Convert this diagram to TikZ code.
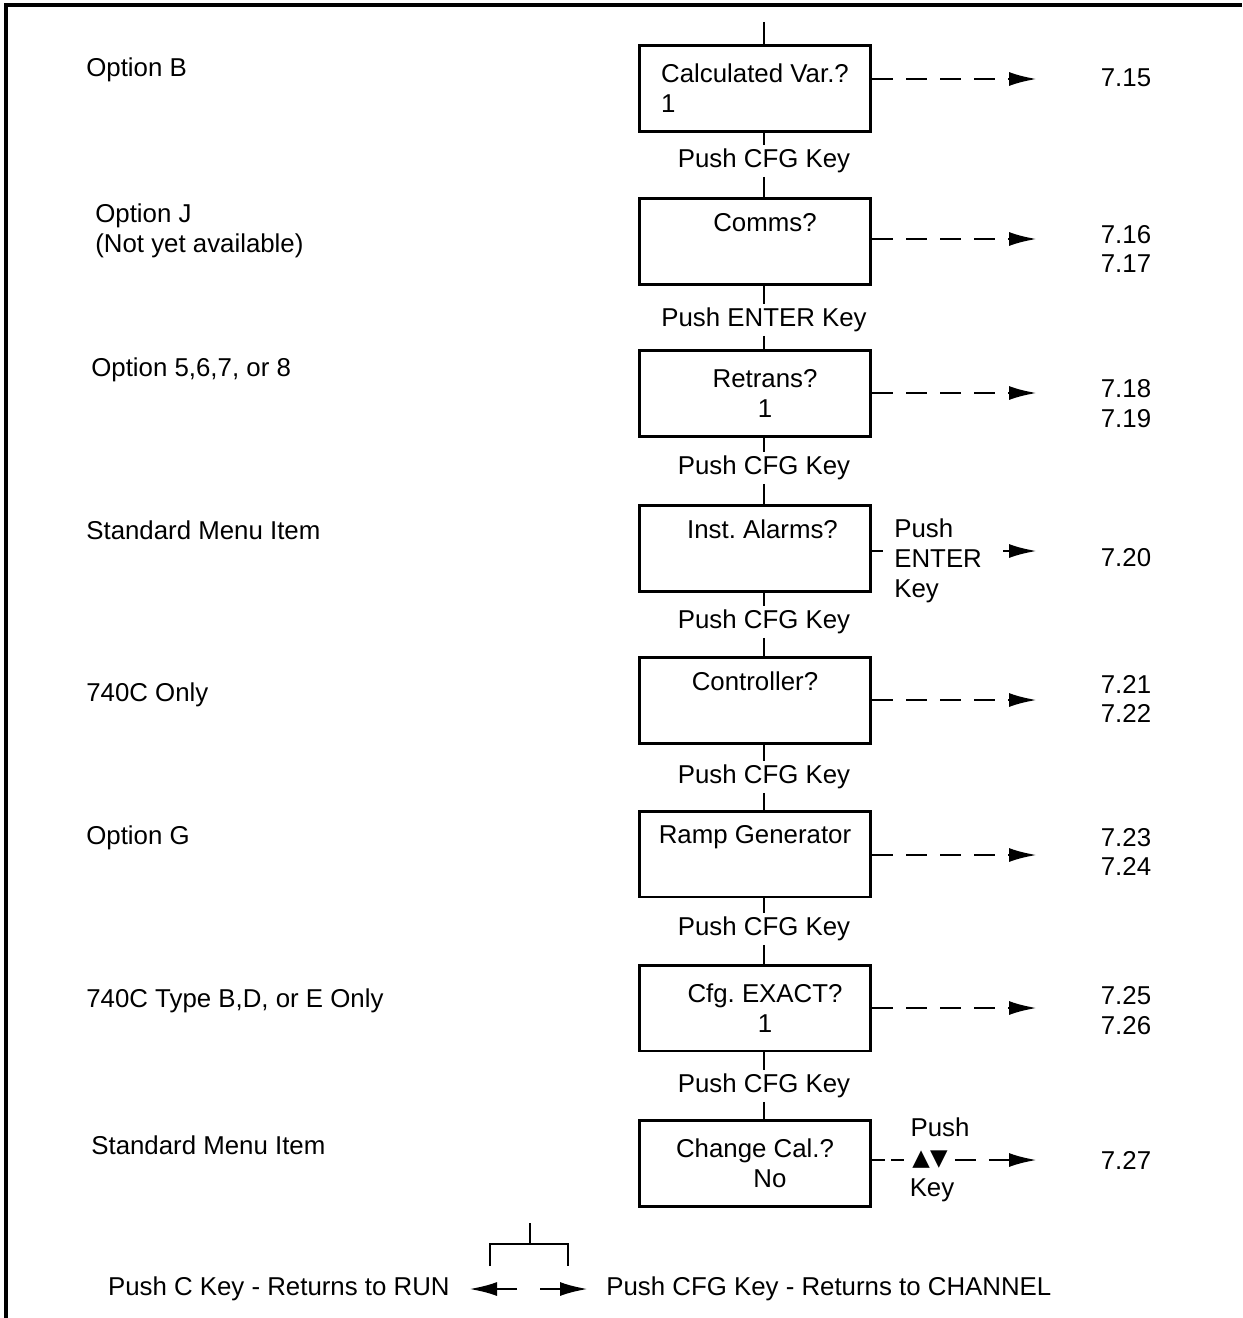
\documentclass[tikz,border=0pt]{standalone}
\usepackage{fontspec}
\setmainfont{Liberation Sans}
\newfontfamily\symfont{DejaVu Sans}
\usetikzlibrary{positioning, arrows.meta, calc}
\frenchspacing
\newcommand{\menufont}{\fontsize{14.7}{17}\selectfont}
\tikzset{
  menubox/.style={draw, line width=1.7pt, minimum width=4.64cm, minimum height=1.72cm, align=center, inner sep=0pt, font=\menufont},
  keylbl/.style={inner sep=2pt, font=\menufont},
  note/.style={anchor=west, align=left, inner sep=0pt, font=\menufont},
  secref/.style={align=center, inner sep=0pt, font=\menufont},
  link/.style={line width=1.5pt},
  arr/.style={line width=1.6pt, -{Latex[length=5.6mm, width=2.8mm]}},
  darr/.style={arr, dash pattern=on 0.42cm off 0.26cm},
  frame/.style={line width=1.9pt}
}

\begin{document}
\begin{tikzpicture}[x=0.02cm, y=-0.02cm]
\useasboundingbox (0,0) rectangle (1242,1318);
\coordinate (frBL) at (6,1318);
\coordinate (frTR) at (1242,5);
\draw[frame] (frBL) |- (frTR);

% menu items
\node[menubox, align=left] (cvar) at (755,88.5) {Calculated Var.?\\1};
\node[menubox] (comms) at (755,241.5) {\hspace*{0.4cm}Comms?\\\strut};
\node[menubox] (retr) at (755,393.5) {\hspace*{0.4cm}Retrans?\\\hspace*{0.4cm}1};
\node[menubox] (alarm) at (755,548.5) {\hspace*{0.3cm}Inst. Alarms?\\\strut};
\node[menubox] (ctrl) at (755,700.5) {Controller?\\\strut};
\node[menubox] (ramp) at (755,854) {Ramp Generator\\\strut};
\node[menubox] (exact) at (755,1008) {\hspace*{0.4cm}Cfg. EXACT?\\\hspace*{0.4cm}1};
\node[menubox] (chcal) at (755,1163.5) {Change Cal.?\\\hspace*{0.6cm}No};

% keys between items
\node[keylbl] (k1) at (764,161) {Push CFG Key};
\node[keylbl] (k2) at (764,320) {Push ENTER Key};
\node[keylbl] (k3) at (764,468) {Push CFG Key};
\node[keylbl] (k4) at (764,622) {Push CFG Key};
\node[keylbl] (k5) at (764,777) {Push CFG Key};
\node[keylbl] (k6) at (764,929) {Push CFG Key};
\node[keylbl] (k7) at (764,1086) {Push CFG Key};

\coordinate (top) at (764,22);
\draw[link] (top) -- (top |- cvar.north);
\draw[link] (cvar.south -| k1) -- (k1);
\draw[link] (k1) -- (k1 |- comms.north);
\draw[link] (comms.south -| k2) -- (k2);
\draw[link] (k2) -- (k2 |- retr.north);
\draw[link] (retr.south -| k3) -- (k3);
\draw[link] (k3) -- (k3 |- alarm.north);
\draw[link] (alarm.south -| k4) -- (k4);
\draw[link] (k4) -- (k4 |- ctrl.north);
\draw[link] (ctrl.south -| k5) -- (k5);
\draw[link] (k5) -- (k5 |- ramp.north);
\draw[link] (ramp.south -| k6) -- (k6);
\draw[link] (k6) -- (k6 |- exact.north);
\draw[link] (exact.south -| k7) -- (k7);
\draw[link] (k7) -- (k7 |- chcal.north);

% left notes
\node[note] (nB) at (86,70) {Option B};
\node[note] (nJ) at (95,231) {Option J\\(Not yet available)};
\node[note] (n58) at (91,370) {Option 5,6,7, or 8};
\node[note] (nstd) at (86,530) {Standard Menu Item};
\node[note] (nC) at (86,695) {740C Only};
\node[note] (nG) at (86,838) {Option G};
\node[note] (nBDE) at (86,1001) {740C Type B,D, or E Only};
\node[note] (nstd2) at (91,1145) {Standard Menu Item};

% section refs
\node[secref] (r1) at (1126,78) {7.15};
\node[secref] (r2) at (1126,249) {7.16\\7.17};
\node[secref] (r3) at (1126,404) {7.18\\7.19};
\node[secref] (r4) at (1126,558) {7.20};
\node[secref] (r5) at (1126,699) {7.21\\7.22};
\node[secref] (r6) at (1126,852) {7.23\\7.24};
\node[secref] (r7) at (1126,1011) {7.25\\7.26};
\node[secref] (r8) at (1126,1160) {7.27};

\coordinate (e1) at (1037,79);
\coordinate (e2) at (1037,239);
\coordinate (e3) at (1037,393);
\coordinate (e4) at (1037,551);
\coordinate (e5) at (1037,700);
\coordinate (e6) at (1037,855);
\coordinate (e7) at (1037,1008);
\coordinate (e8) at (1037,1160);
\draw[darr] (cvar.east |- e1) -- (e1);
\draw[darr] (comms.east |- e2) -- (e2);
\draw[darr] (retr.east |- e3) -- (e3);
\draw[darr] (ctrl.east |- e5) -- (e5);
\draw[darr] (ramp.east |- e6) -- (e6);
\draw[darr] (exact.east |- e7) -- (e7);

% enter key branch
\coordinate (s4) at (883,551);
\coordinate (a4) at (1003,551);
\draw[link] (alarm.east |- s4) -- (s4);
\node[note] (pent) at (894,561) {Push\\ENTER\\Key};
\draw[arr] (a4) -- (e4);

% arrow keys branch
\node[inner xsep=4pt, inner ysep=1pt, font=\symfont\fontsize{13}{14}\selectfont] (updn) at (930,1160) {▲▼};
\node[keylbl] (pup) at (940,1127) {Push};
\node[keylbl] (pkey) at (932,1190) {Key};
\draw[link, dash pattern=on 0.26cm off 0.12cm] (chcal.east |- updn) -- (updn);
\draw[darr] (updn) -- (e8);

% exits
\coordinate (brkT) at (530,1223);
\coordinate (brkM) at (530,1244);
\coordinate (brkL) at (490,1266);
\coordinate (brkR) at (568,1266);
\draw[link] (brkT) -- (brkM);
\draw[link] (brkL) |- (brkM) -| (brkR);
\node[keylbl, anchor=east, inner sep=0pt] (ret) at (450,1289) {Push C Key - Returns to RUN};
\node[keylbl, anchor=west, inner sep=0pt] (chan) at (606,1289) {Push CFG Key - Returns to CHANNEL};
\coordinate (lt) at (517,1289);
\coordinate (lh) at (469,1289);
\coordinate (rt) at (540,1289);
\coordinate (rh) at (588,1289);
\draw[arr] (lt) -- (lh);
\draw[arr] (rt) -- (rh);
\end{tikzpicture}
\end{document}
